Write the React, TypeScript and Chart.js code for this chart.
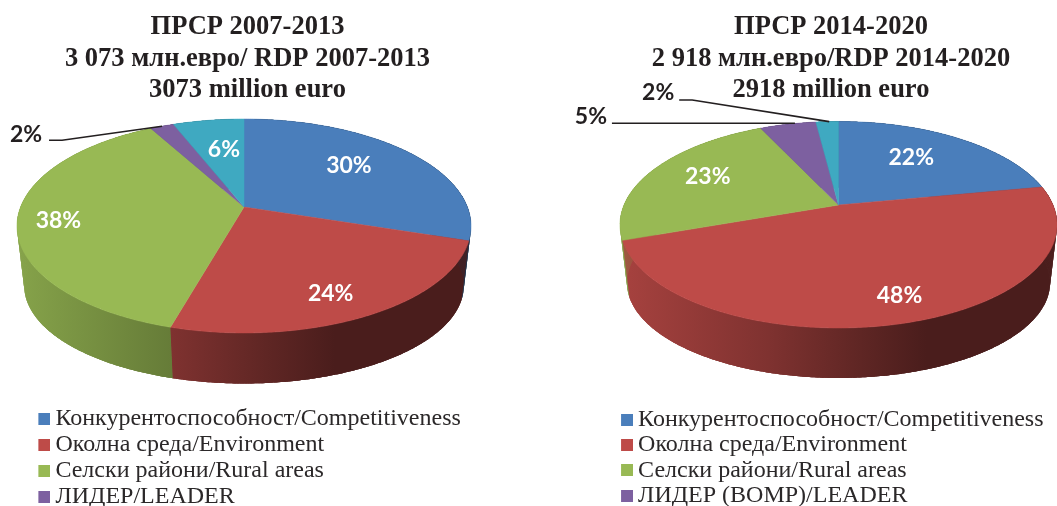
import React, { useEffect, useRef } from "react";
import { Chart, registerables } from "chart.js";

Chart.register(...registerables);

const leftCategories = ["Конкурентоспособност/Competitiveness", "Околна среда/Environment", "Селски райони/Rural areas", "ЛИДЕР/LEADER", "Техническа помощ/Technical assistance"];
const rightCategories = ["Конкурентоспособност/Competitiveness", "Околна среда/Environment", "Селски райони/Rural areas", "ЛИДЕР (ВОМР)/LEADER", "Техническа помощ/Technical assistance"];
const leftValues = [30, 24.4, 37.6, 2, 6];
const rightValues = [22, 47.6, 23.4, 5, 2];
const sliceColors = ["#4a7ebb", "#be4b48", "#98b954", "#7d60a0", "#3fa9c1"];
const leftTitle = ["ПРСР 2007-2013", "3 073 млн.евро/ RDP 2007-2013", "3073 million euro"];
const rightTitle = ["ПРСР 2014-2020", "2 918 млн.евро/RDP 2014-2020", "2918 million euro"];

const SERIF = "'Liberation Serif', serif";
const wallStops: [number, number][] = [[0, 0.88], [0.34, 0.67], [0.55, 0.5], [0.7, 0.39], [1, 0.39]];

function shade(hex: string, f: number) {
  const n = parseInt(hex.slice(1), 16);
  return `rgb(${((n >> 16) & 255) * f},${((n >> 8) & 255) * f},${(n & 255) * f})`;
}

function legendSwatch(color: string) {
  const c = document.createElement("canvas");
  c.width = 14;
  c.height = 12;
  const g = c.getContext("2d")!;
  g.fillStyle = color;
  g.fillRect(2, 0, 12, 12);
  return c;
}

const pie3d = {
  id: "pie3d",
  afterLayout(chart: any, _a: any, o: any) {
    const t = chart.titleBlock;
    t.left = o.titleCenter - 240;
    t.right = o.titleCenter + 240;
    t.top = o.titleTop;
    const l = chart.legend;
    const h = l.height;
    l.left = o.legendLeft;
    l.right = o.legendLeft + 450;
    l.width = 450;
    l.top = o.legendTop;
    l.bottom = o.legendTop + h;
    // swatches sit a little left of the legend box, so it must not clip them
    l.draw = function () {
      this._draw();
    };
  },
  beforeDatasetsDraw(chart: any, _a: any, o: any) {
    const ctx = chart.ctx as CanvasRenderingContext2D;
    const arcs = chart.getDatasetMeta(0).data;
    const colors = chart.data.datasets[0].backgroundColor as string[];
    const project = (u: number, v: number): [number, number] => {
      const den = 1 - o.k * v;
      return [o.cx + (o.b * u) / den, o.cy + (o.a * v) / den];
    };
    const lower = ([x, y]: [number, number]): [number, number] => [
      o.cx + (x - o.cx) * o.wallScaleX,
      o.cy + (y - o.cy) * o.wallScaleY + o.depth,
    ];
    const angles = (start: number, end: number) => {
      const out: number[] = [];
      const steps = Math.max(2, Math.ceil((end - start) / 0.01));
      for (let i = 0; i <= steps; i++) out.push(start + ((end - start) * i) / steps);
      return out;
    };
    const west = o.cx - o.b * 1.02;
    const east = o.cx + o.b * 1.02;
    const quads: { v: number; style: CanvasGradient; p: [number, number][] }[] = [];
    arcs.forEach((arc: any, i: number) => {
      const grad = ctx.createLinearGradient(west, 0, east, 0);
      wallStops.forEach(([p, f]) => grad.addColorStop(p, shade(colors[i], f)));
      const ts = angles(arc.startAngle, arc.endAngle);
      const top = ts.map((t) => project(Math.cos(t), Math.sin(t)));
      // the whole strip first, so that the narrow pieces below leave no seams
      ctx.beginPath();
      top.forEach(([x, y], j) => (j ? ctx.lineTo(x, y) : ctx.moveTo(x, y)));
      [...top].reverse().forEach((p) => ctx.lineTo(...lower(p)));
      ctx.closePath();
      ctx.fillStyle = grad;
      ctx.fill();
      for (let j = 0; j + 1 < ts.length; j++) {
        quads.push({
          v: Math.sin((ts[j] + ts[j + 1]) / 2),
          style: grad,
          p: [top[j], top[j + 1], lower(top[j + 1]), lower(top[j])],
        });
      }
    });
    quads.sort((q, r) => q.v - r.v);
    for (let pass = 0; pass < 2; pass++) {
      quads.forEach((q) => {
        ctx.beginPath();
        q.p.forEach(([x, y], j) => (j ? ctx.lineTo(x, y) : ctx.moveTo(x, y)));
        ctx.closePath();
        ctx.fillStyle = q.style;
        ctx.fill();
      });
    }
    arcs.forEach((arc: any, i: number) => {
      ctx.beginPath();
      ctx.moveTo(...project(0, 0));
      angles(arc.startAngle, arc.endAngle).forEach((t) => {
        const [x, y] = project(Math.cos(t), Math.sin(t));
        ctx.lineTo(x, y);
      });
      ctx.closePath();
      ctx.fillStyle = colors[i];
      ctx.strokeStyle = colors[i];
      ctx.lineWidth = 0.5;
      ctx.fill();
      ctx.stroke();
    });
    ctx.font = `bold ${o.labelSize}px Lato, sans-serif`;
    ctx.textAlign = "center";
    ctx.textBaseline = "middle";
    arcs.forEach((arc: any, i: number) => {
      const mid = (arc.startAngle + arc.endAngle) / 2;
      const place = o.labels[i];
      const [ax, ay] = project(place.r * Math.cos(mid), place.r * Math.sin(mid));
      if (place.leader) {
        ctx.beginPath();
        place.leader.forEach(([dx, dy]: number[], j: number) =>
          j ? ctx.lineTo(ax + dx, ay + dy) : ctx.moveTo(ax + dx, ay + dy));
        ctx.strokeStyle = "#231f20";
        ctx.lineWidth = 1.6;
        ctx.stroke();
      }
      ctx.fillStyle = place.leader ? "#231f20" : "#ffffff";
      ctx.fillText(`${Math.round(chart.data.datasets[0].data[i])}%`, ax + place.dx, ay + place.dy);
    });
    return false;
  },
};

const leftLayout = {
  canvasLeft: 0, width: 510,
  cx: 244, cy: 207, a: 103.6, b: 223.4, k: 0.1776, depth: 61.6, wallScaleX: 0.968, wallScaleY: 0.912, labelSize: 23,
  titleCenter: 247.5, titleTop: 11.5, legendLeft: 41.4, legendTop: 405.1, rowGap: 1.9,
  labels: [
    { r: 0.7, dx: -13, dy: -2 },
    { r: 0.7, dx: 4, dy: 15 },
    { r: 0.7, dx: -28, dy: 5 },
    { r: 1, dx: -136, dy: 8, leader: [[0, 0], [-100, 14], [-113, 14]] },
    { r: 0.7, dx: 6, dy: 6 },
  ],
};

const rightLayout = {
  canvasLeft: 550, width: 507,
  cx: 288.5, cy: 205, a: 99.5, b: 214.5, k: 0.191, depth: 59.6, wallScaleX: 0.968, wallScaleY: 0.922, labelSize: 23,
  titleCenter: 281, titleTop: 11.5, legendLeft: 74.8, legendTop: 406.8, rowGap: 1.2,
  labels: [
    { r: 0.7, dx: -14, dy: 1 },
    { r: 0.7, dx: 16, dy: 13.5 },
    { r: 0.7, dx: 1, dy: -3 },
    { r: 1, dx: -197, dy: -8, leader: [[7, -1], [-176, -1]] },
    { r: 1, dx: -169, dy: -28.6, leader: [[2, 0], [-135, -21.6], [-148, -21.6]] },
  ],
};

function Pie({ labels, values, title, layout }: any) {
  const ref = useRef<HTMLCanvasElement>(null);
  useEffect(() => {
    const chart = new Chart(ref.current!, {
      type: "pie",
      data: { labels, datasets: [{ data: values, backgroundColor: sliceColors, borderWidth: 0 }] },
      plugins: [pie3d],
      options: {
        responsive: false,
        animation: false,
        layout: { padding: { left: 40, right: layout.width - 440 } },
        plugins: {
          pie3d: layout,
          tooltip: { enabled: false },
          title: {
            display: true,
            text: title,
            color: "#231f20",
            padding: 0,
            font: { family: SERIF, size: 26.5, weight: "bold", lineHeight: 1.19 },
          },
          legend: {
            display: true,
            position: "bottom",
            align: "start",
            labels: {
              color: "#2b2829",
              padding: layout.rowGap,
              font: { family: SERIF, size: 24, lineHeight: 1 },
              usePointStyle: true,
              boxWidth: 0.1,
              boxHeight: 12,
              generateLabels: (c: any) =>
                c.data.labels.slice(0, 4).map((text: string, index: number) => ({
                  text,
                  index,
                  fontColor: "#2b2829",
                  fillStyle: sliceColors[index],
                  strokeStyle: sliceColors[index],
                  lineWidth: 0,
                  hidden: false,
                  pointStyle: legendSwatch(sliceColors[index]),
                })),
            },
          },
        },
      } as any,
    });
    return () => chart.destroy();
  }, []);
  return (
    <canvas
      ref={ref}
      width={layout.width}
      height={506}
      style={{ position: "absolute", left: layout.canvasLeft, top: 0 }}
    />
  );
}

export default function App() {
  return (
    <div style={{ position: "absolute", left: 0, top: 0, width: 1057, height: 506, background: "#fff", overflow: "hidden" }}>
      <Pie labels={leftCategories} values={leftValues} title={leftTitle} layout={leftLayout} />
      <Pie labels={rightCategories} values={rightValues} title={rightTitle} layout={rightLayout} />
    </div>
  );
}
